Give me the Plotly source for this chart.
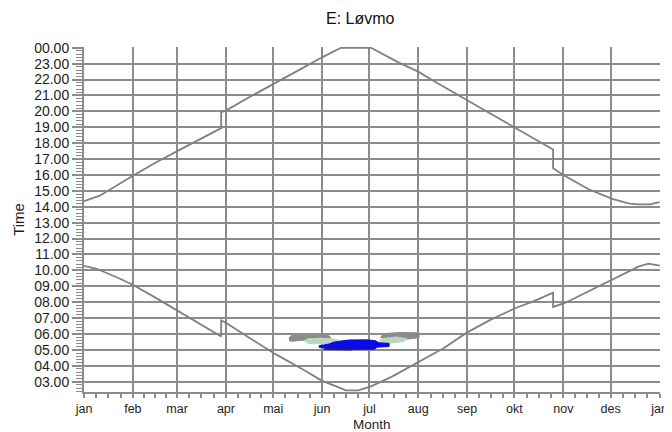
import plotly.graph_objects as go

# ---------------- data ----------------
month_days = [0, 31, 59, 90, 120, 151, 181, 212, 243, 273, 304, 334, 365]
month_labels = ["jan", "feb", "mar", "apr", "mai", "jun", "jul", "aug",
                "sep", "okt", "nov", "des", "jan"]
hour_vals = list(range(3, 25))
hour_labels = ["%02d.00" % (h % 24) for h in hour_vals]

upper_days = [0, 10, 31, 45, 60, 87, 87, 90, 105, 122, 140, 151, 163, 182,
              200, 212, 221, 243, 258, 276, 297.5, 297.5, 304, 320, 335, 346,
              352, 359, 365]
upper_vals = [14.35, 14.7, 15.95, 16.75, 17.55, 18.95, 19.96, 20.05, 20.9,
              21.8, 22.8, 23.4, 24.0, 24.0, 23.05, 22.5, 21.96, 20.7, 19.85,
              18.8, 17.6, 16.43, 16.0, 15.1, 14.5, 14.2, 14.15, 14.15, 14.3]

lower_days = [0, 8, 20, 31, 45, 61, 87, 87, 90, 105, 122, 140, 151, 160, 166,
              174, 182, 195, 212, 228, 243, 258, 273, 285, 297.5, 297.5, 305,
              320, 335, 345, 352, 358, 365]
lower_vals = [10.28, 10.1, 9.6, 9.1, 8.3, 7.38, 5.84, 6.85, 6.7, 5.75, 4.7,
              3.7, 3.05, 2.7, 2.45, 2.45, 2.7, 3.3, 4.22, 5.1, 6.1, 6.9, 7.6,
              8.05, 8.6, 7.7, 7.95, 8.7, 9.4, 9.9, 10.25, 10.42, 10.3]

gray_left_days = [130, 131.5, 135, 155, 156.5, 155, 140, 132, 130]
gray_left_vals = [5.72, 5.90, 5.92, 5.92, 5.78, 5.66, 5.62, 5.54, 5.58]
gray_right_days = [187.9, 190, 200, 212.5, 212.5, 205, 195]
gray_right_vals = [5.74, 6.02, 6.09, 6.07, 5.76, 5.68, 5.64]
green_left_days = [139.4, 142, 150, 158, 164.7, 160, 150, 142]
green_left_vals = [5.55, 5.70, 5.74, 5.68, 5.55, 5.43, 5.38, 5.40]
green_right_days = [186.9, 190, 198, 204.7, 203, 195, 188]
green_right_vals = [5.55, 5.72, 5.81, 5.72, 5.53, 5.43, 5.42]
blue_days = [148.9, 152, 156, 158, 163, 168, 180, 185, 187, 193.5, 193.5,
             186, 184, 170, 158, 152, 149]
blue_vals = [5.25, 5.32, 5.38, 5.48, 5.57, 5.62, 5.63, 5.57, 5.44, 5.41,
             5.21, 5.17, 5.04, 5.02, 5.03, 5.13, 5.17]
navy_days = [152, 170]
navy_vals = [5.06, 5.03]

# ---------------- figure ----------------
GRID = "#8c8c8c"
LINE = "#808080"
FONT = "Liberation Sans, Arial, sans-serif"

fig = go.Figure()

def blob(xs, ys, color):
    fig.add_trace(go.Scatter(x=xs, y=ys, mode="lines", fill="toself",
                             fillcolor=color, line=dict(color=color, width=1),
                             hoverinfo="skip"))

blob(gray_left_days, gray_left_vals, "#8a8a8a")
blob(gray_right_days, gray_right_vals, "#8a8a8a")
blob(green_left_days, green_left_vals, "#bcd8bc")
blob(green_right_days, green_right_vals, "#bcd8bc")
blob(blue_days, blue_vals, "#0a0ae8")
fig.add_trace(go.Scatter(x=navy_days, y=navy_vals, mode="lines",
                         line=dict(color="#1a1a9a", width=2)))

fig.add_trace(go.Scatter(x=upper_days, y=upper_vals, mode="lines",
                         line=dict(color=LINE, width=1.8)))
fig.add_trace(go.Scatter(x=lower_days, y=lower_vals, mode="lines",
                         line=dict(color=LINE, width=1.8)))

# minor tick positions (axis styling): quarter months, 12 minutes
minor_x = []
for a, b in zip(month_days[:-1], month_days[1:]):
    minor_x += [a + (b - a) * k / 4 for k in (1, 2, 3)]
minor_y = [2.4 + 0.2 * i for i in range(109)]

# page body has an 8px margin, so the figure is 664x424 drawn from (8, 8)
fig.update_layout(
    width=664, height=424, autosize=False,
    margin=dict(l=76, r=12, t=39, b=40),
    paper_bgcolor="white", plot_bgcolor="white",
    showlegend=False,
    font=dict(family=FONT, size=14, color="#1e1e1e"),
    title=dict(text="E: Løvmo", x=0.5305, xanchor="center", y=0.976,
               yanchor="middle", yref="container",
               font=dict(family=FONT, size=16, color="#111")),
    annotations=[
        dict(text="Month", xref="paper", yref="paper", x=0.5, y=-0.093,
             showarrow=False, xanchor="center", yanchor="middle",
             font=dict(size=13.5, color="#1e1e1e")),
        dict(text="Time", xref="paper", yref="paper", x=-0.114, y=0.5,
             textangle=-90, showarrow=False, xanchor="center",
             yanchor="middle", font=dict(size=15, color="#1e1e1e")),
    ],
)
fig.update_xaxes(
    range=[0, 365.3], tickmode="array", tickvals=month_days,
    ticktext=month_labels, showgrid=True, gridcolor=GRID, gridwidth=2,
    showline=True, linecolor=GRID, linewidth=2, zeroline=False,
    ticks="outside", ticklen=4, tickwidth=1.5, tickcolor=GRID,
    minor=dict(tickmode="array", tickvals=minor_x, ticks="outside",
               ticklen=4, tickwidth=1.5, tickcolor=GRID, showgrid=False),
    tickfont=dict(size=12.5), automargin=False,
)
fig.update_yaxes(
    range=[2.35, 24.05], tickmode="array", tickvals=hour_vals,
    ticktext=hour_labels, showgrid=True, gridcolor=GRID, gridwidth=2,
    showline=True, linecolor=GRID, linewidth=2, zeroline=False,
    ticks="outside", ticklen=10, tickwidth=1.5, tickcolor=GRID,
    minor=dict(tickmode="array", tickvals=minor_y, ticks="outside",
               ticklen=6, tickwidth=1, tickcolor=GRID, showgrid=False),
    tickfont=dict(size=14), automargin=False,
)

fig.write_html("out.html")
